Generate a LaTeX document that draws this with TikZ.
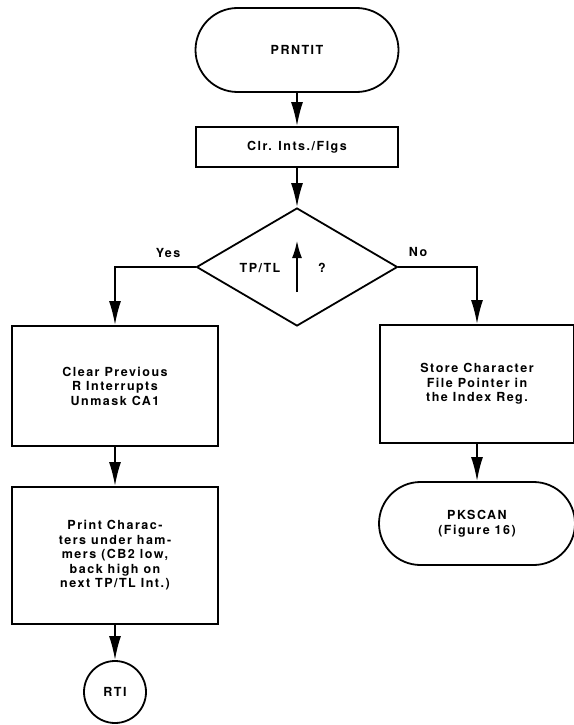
\documentclass[tikz,border=0pt]{standalone}
\usepackage{fontspec}
\setmainfont{TeX Gyre Heros}[LetterSpace=12]
\usetikzlibrary{shapes.geometric,shapes.misc,arrows.meta}
\begin{document}
\begin{tikzpicture}[x=1pt,y=-1pt,
		line width=1.8pt,
		flow/.style={-{Latex[length=24pt,width=12pt]}},
		txt/.style={font=\fontsize{12.5}{14.5}\selectfont\bfseries,align=center},
		procbox/.style={txt,draw,rectangle,inner sep=0pt},
		termbox/.style={txt,draw,rounded rectangle,inner sep=0pt},
		decbox/.style={draw,diamond,inner sep=0pt,minimum width=201pt,minimum height=118pt}]
		  \useasboundingbox (0,0) rectangle (573,725);
		  \node[termbox,minimum width=203pt,minimum height=84pt] (prntit) at (297,50) {PRNTIT};
		  \node[procbox,minimum width=202pt,minimum height=40pt] (clrflg) at (297,147) {Clr. Ints./Flgs};
		  \node[decbox] (tpdec) at (297,267) {};
		  \node[txt] (tptl) at (260,268) {TP/TL};
		  \node[txt] (qmark) at (322,268) {?};
		  \node[txt] (yes) at (168,253) {Yes};
		  \node[txt] (no) at (418,252) {No};
		  \node[procbox,minimum width=206pt,minimum height=120pt] (clrprev) at (115,386) {Clear Previous\\R Interrupts\\Unmask CA1};
		  \node[procbox,minimum width=206pt,minimum height=137pt] (prtchr) at (115,555.5) {Print Charac-\\ters under ham-\\mers (CB2 low,\\back high on\\next TP/TL Int.)};
		  \node[txt,draw,circle,inner sep=0pt,minimum size=62pt] (rti) at (115,692) {RTI};
		  \node[procbox,minimum width=194pt,minimum height=118pt] (store) at (477,384) {Store Character\\File Pointer in\\the Index Reg.};
		  \node[termbox,minimum width=196pt,minimum height=83pt] (pkscan) at (477,523.5) {PKSCAN\\(Figure 16)};
		  \draw[line width=2.6pt,-{Latex[length=18pt,width=10pt]}] ([yshift=-25pt]tpdec.center) -- ([yshift=27pt]tpdec.center);
		  \draw[flow] (prntit) -- (clrflg);
		  \draw[flow] (clrflg) -- (tpdec);
		  \draw[flow] (tpdec.west) -| (clrprev.north);
		  \draw[flow] (tpdec.east) -| (store.north);
		  \draw[flow] (clrprev) -- (prtchr);
		  \draw[flow] (prtchr) -- (rti);
		  \draw[flow] (store) -- (pkscan);
		\end{tikzpicture}
\end{document}
